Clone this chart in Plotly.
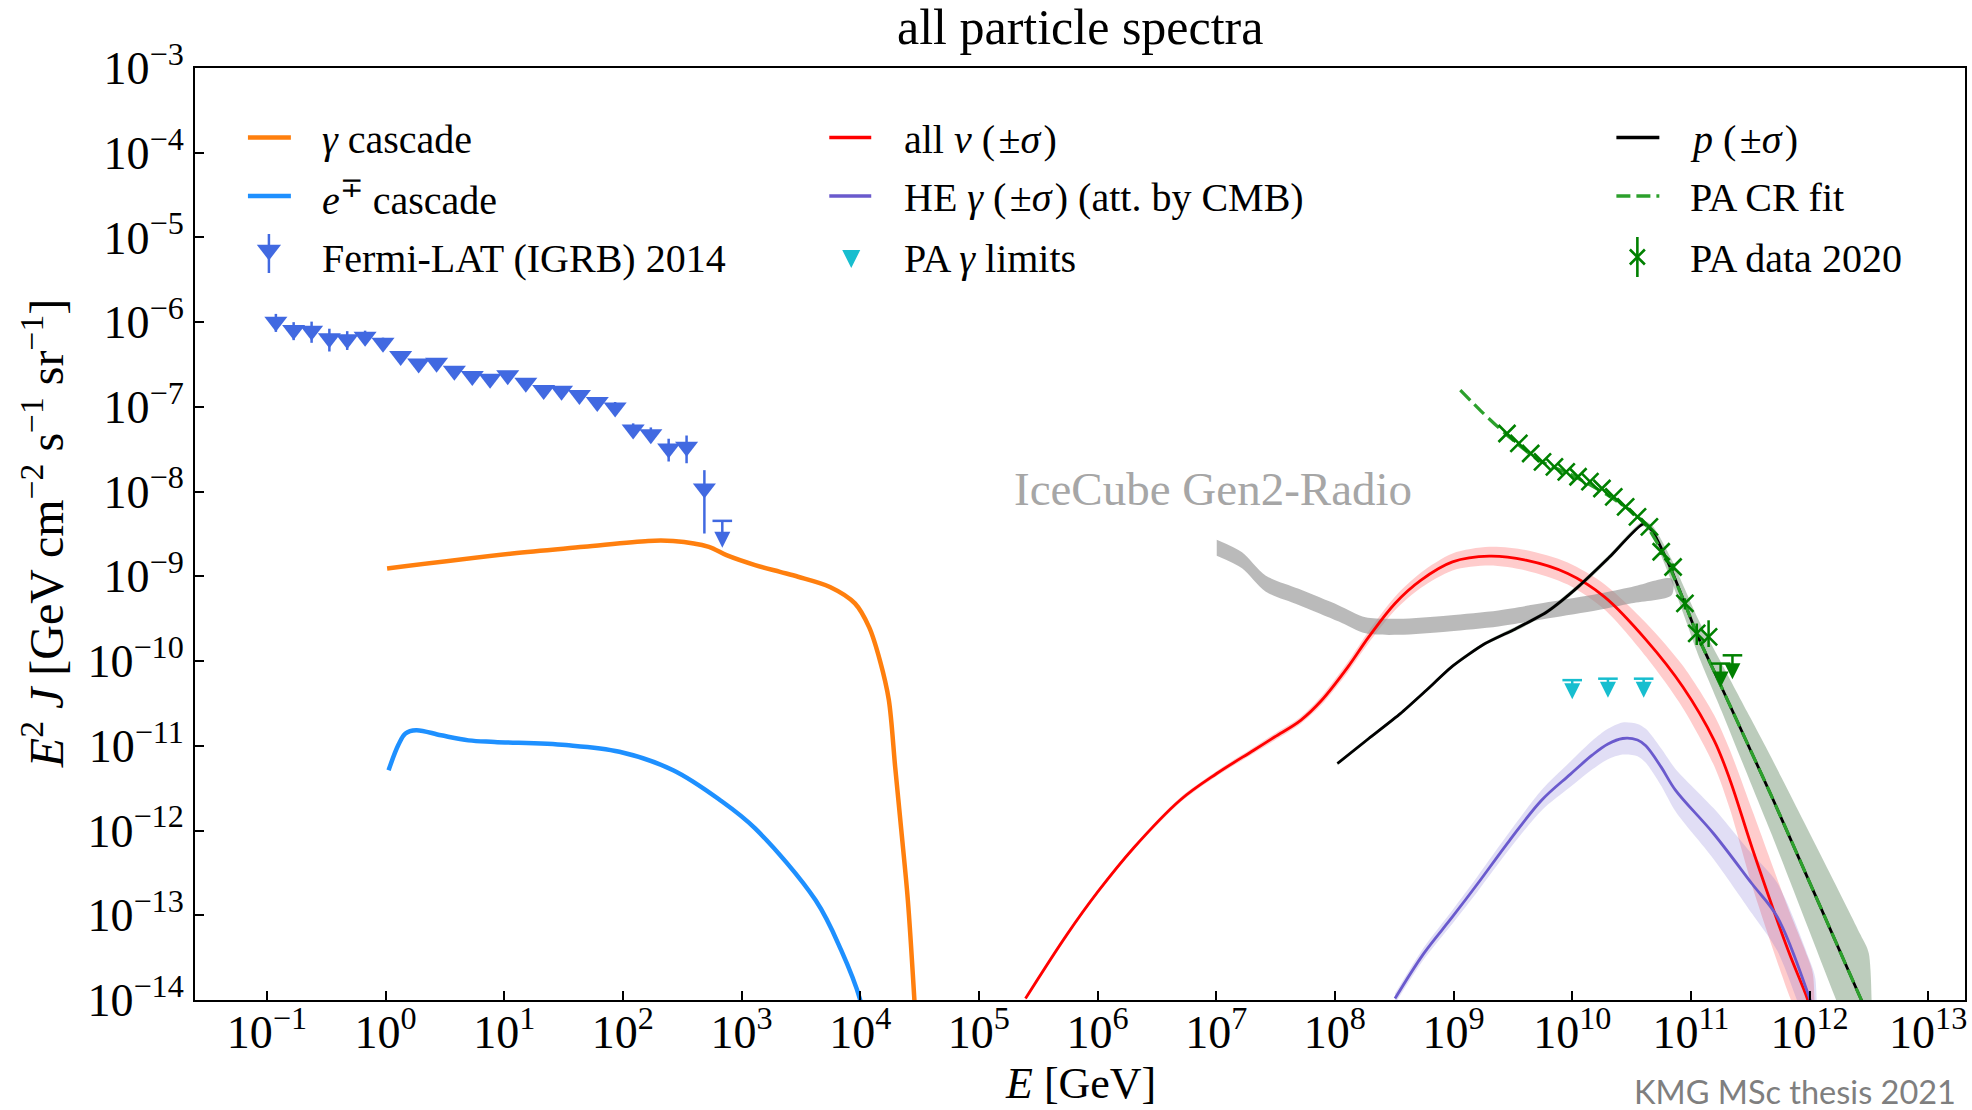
import plotly.graph_objects as go

FONT = "Liberation Serif"

# ===================== values =====================
x_exps = [-1, 0, 1, 2, 3, 4, 5, 6, 7, 8, 9, 10, 11, 12, 13]
y_exps = [-14, -13, -12, -11, -10, -9, -8, -7, -6, -5, -4, -3]

# gamma cascade
gam_E = [1.03, 11.7, 46.9, 163, 265, 530, 746, 1300, 2110, 2990, 5560, 9020,
         11900, 14700, 17400, 19700, 22200, 25200, 28600, 30000]
gam_J = [1.24e-9, 1.86e-9, 2.23e-9, 2.62e-9, 2.61e-9, 2.23e-9, 1.78e-9, 1.36e-9,
         1.13e-9, 9.9e-10, 7.5e-10, 4.8e-10, 2.5e-10, 1.0e-10, 3.5e-11, 5.6e-12,
         1.0e-12, 1.5e-13, 1.0e-14, 3e-15]

# e+- cascade
ele_E = [1.06, 1.28, 1.47, 1.81, 2.94, 5.0, 8.3, 33.1, 93.5, 265, 661, 1300,
         4210, 6890, 10000, 10500]
ele_J = [5.15e-12, 1.02e-11, 1.40e-11, 1.53e-11, 1.33e-11, 1.16e-11, 1.11e-11,
         1.02e-11, 8.5e-12, 5.15e-12, 2.28e-12, 1.06e-12, 1.5e-13, 3.9e-14,
         1.0e-14, 7e-15]

# Fermi-LAT IGRB 2014
fermi_E = [0.119, 0.168, 0.238, 0.336, 0.475, 0.672, 0.951, 1.34, 1.90, 2.69,
           3.80, 5.38, 7.60, 10.7, 15.2, 21.5, 30.4, 43.0, 60.8, 86.0, 122,
           172, 243, 344, 486]
fermi_J = [1.01e-6, 8.07e-7, 7.93e-7, 6.44e-7, 6.27e-7, 6.73e-7, 5.71e-7,
           3.98e-7, 3.26e-7, 3.32e-7, 2.67e-7, 2.31e-7, 2.15e-7, 2.37e-7,
           1.93e-7, 1.58e-7, 1.55e-7, 1.38e-7, 1.14e-7, 9.86e-8, 5.42e-8,
           4.77e-8, 3.24e-8, 3.38e-8, 1.09e-8]
fermi_err_hi = [0.24, 0.24, 0.28, 0.30, 0.25, 0.18, 0.15, 0.12, 0.12, 0.12,
                0.12, 0.12, 0.12, 0.12, 0.12, 0.12, 0.12, 0.12, 0.14, 0.16,
                0.18, 0.20, 0.30, 0.36, 0.644]
fermi_err_lo = [0.24, 0.24, 0.28, 0.30, 0.25, 0.18, 0.15, 0.12, 0.12, 0.12,
                0.12, 0.12, 0.12, 0.12, 0.12, 0.12, 0.12, 0.12, 0.14, 0.16,
                0.18, 0.20, 0.30, 0.36, 0.706]
fermi_ul_E = [688]
fermi_ul_J = [4.52e-9]

# all neutrinos (+- sigma)
nu_E = [2.47e5, 5.5e5, 1.01e6, 2.02e6, 4.95e6, 1.01e7, 2.07e7, 3.1e7, 5.15e7,
        7.74e7, 1.29e8, 1.93e8, 3.21e8, 5.32e8, 9.8e8, 2.0e9, 4.06e9, 9.16e9,
        1.87e10, 4.21e10, 8.57e10, 1.57e11, 2.14e11, 3.33e11, 6.6e11, 9.55e11,
        1.07e12]
nu_J = [1.04e-14, 5.87e-14, 1.91e-13, 6.27e-13, 2.28e-12, 4.71e-12, 8.87e-12,
        1.27e-11, 2.0e-11, 3.45e-11, 8.55e-11, 1.93e-10, 4.79e-10, 9.02e-10,
        1.48e-9, 1.73e-9, 1.55e-9, 1.08e-9, 5.73e-10, 1.77e-10, 4.95e-11,
        1.16e-11, 3.93e-12, 5.86e-13, 3.86e-14, 1.05e-14, 6.3e-15]
nu_sigma_dex = [0.02, 0.02, 0.02, 0.025, 0.03, 0.03, 0.035, 0.04, 0.04, 0.05,
                0.06, 0.07, 0.08, 0.09, 0.10, 0.11, 0.12, 0.13, 0.15, 0.20,
                0.25, 0.30, 0.35, 0.45, 0.50, 0.50, 0.50]

# HE gamma (att. by CMB) (+- sigma)
heg_E = [3.21e8, 5.6e8, 9.77e8, 1.6e9, 2.97e9, 5.52e9, 9.62e9, 1.48e10, 2.0e10,
         2.66e10, 3.55e10, 4.17e10, 5.62e10, 7.41e10, 1.55e11, 3.26e11, 5.35e11,
         1.0e12, 1.12e12]
heg_J = [1.04e-14, 3.53e-14, 9.55e-14, 2.37e-13, 7.67e-13, 2.28e-12, 4.6e-12,
         7.8e-12, 1.05e-11, 1.22e-11, 1.17e-11, 1.0e-11, 5.6e-12, 3.0e-12,
         9.23e-13, 2.37e-13, 9.55e-14, 1.05e-14, 6.3e-15]
heg_sigma_dex = [0.06, 0.07, 0.08, 0.09, 0.10, 0.12, 0.15, 0.17, 0.18, 0.19,
                 0.19, 0.20, 0.22, 0.25, 0.30, 0.35, 0.40, 0.45, 0.45]

# protons (+- sigma)
p_E = [1.05e8, 1.93e8, 3.56e8, 5.9e8, 9.8e8, 1.8e9, 3.32e9, 6.1e9, 1.12e10,
       2.07e10, 3.98e10, 4.67e10, 6.87e10, 8.89e10, 1.15e11, 1.81e11, 3.18e11,
       4.82e11, 2.69e12, 3.16e12]
p_J = [6.18e-12, 1.22e-11, 2.4e-11, 4.53e-11, 8.71e-11, 1.58e-10, 2.4e-10,
       3.8e-10, 7.52e-10, 1.70e-9, 4.17e-9, 3.52e-9, 1.18e-9, 4.79e-10,
       1.93e-10, 4.95e-11, 8.87e-12, 2.49e-12, 1.05e-14, 6.3e-15]
p_sigma_dex = [0.02, 0.02, 0.02, 0.02, 0.02, 0.02, 0.025, 0.025, 0.03, 0.03,
               0.03, 0.06, 0.13, 0.17, 0.21, 0.28, 0.38, 0.45, 0.75, 0.75]

# Pierre Auger CR fit
fit_E = [1.14e9, 1.73e9, 2.72e9, 5.19e9, 9.91e9, 1.89e10, 2.79e10, 4.1e10,
         6.04e10, 8.89e10, 1.15e11, 1.81e11, 3.18e11, 4.82e11, 2.69e12, 3.16e12]
fit_J = [1.58e-7, 8.75e-8, 4.86e-8, 2.36e-8, 1.57e-8, 9.51e-9, 6.62e-9, 4.21e-9,
         1.70e-9, 4.79e-10, 1.93e-10, 4.95e-11, 8.87e-12, 2.49e-12, 1.05e-14,
         6.3e-15]

# Pierre Auger data 2020
pa_E = [2.82e9, 3.55e9, 4.47e9, 5.62e9, 7.08e9, 8.91e9, 1.12e10, 1.41e10,
        1.78e10, 2.24e10, 2.82e10, 3.55e10, 4.47e10, 5.62e10, 7.08e10, 8.91e10,
        1.12e11, 1.41e11]
pa_J = [4.86e-8, 3.71e-8, 2.82e-8, 2.25e-8, 1.96e-8, 1.71e-8, 1.50e-8, 1.31e-8,
        1.09e-8, 8.69e-9, 6.62e-9, 5.04e-9, 3.84e-9, 1.95e-9, 1.29e-9, 4.79e-10,
        2.12e-10, 1.93e-10]
pa_err_hi = [0.02, 0.02, 0.02, 0.02, 0.02, 0.02, 0.03, 0.03, 0.03, 0.04, 0.04,
             0.05, 0.06, 0.08, 0.10, 0.15, 0.31, 0.57]
pa_err_lo = [0.02, 0.02, 0.02, 0.02, 0.02, 0.02, 0.03, 0.03, 0.03, 0.04, 0.04,
             0.05, 0.06, 0.08, 0.10, 0.15, 0.27, 0.24]
pa_ul_E = [1.78e11, 2.24e11]
pa_ul_J = [9.35e-11, 1.17e-10]

# Pierre Auger photon limits
pag_E = [1e10, 2e10, 4e10]
pag_J = [5.96e-11, 6.2e-11, 6.2e-11]

# IceCube Gen2-Radio sensitivity band
ic_E = [1.01e7, 1.65e7, 2.6e7, 4.95e7, 1.08e8, 1.81e8, 3.44e8, 9.08e8, 2.39e9,
        6.31e9, 1.66e10, 3.17e10, 6.89e10]
ic_J = [2.18e-9, 1.55e-9, 8.24e-10, 5.73e-10, 3.65e-10, 2.65e-10, 2.54e-10,
        2.78e-10, 3.18e-10, 3.99e-10, 5.0e-10, 6.0e-10, 7.52e-10]
ic_halfwidth_dex = 0.095

# ===================== geometry / styling =====================
WIDTH, HEIGHT = 1972, 1110
L, R, T, B = 195, 1967, 68, 1000
DEC_Y = (B - T) / 11.0


def u(px):
    return (px - L) / (R - L)


def v(py):
    return (B - py) / (B - T)


x_tickvals = [10.0 ** e for e in x_exps]
x_ticktext = ["10<sup>%s%d</sup>" % ("\u2212" if e < 0 else "", abs(e)) for e in x_exps]
y_tickvals = [10.0 ** e for e in y_exps]
y_ticktext = ["10<sup>%s%d</sup>" % ("\u2212" if e < 0 else "", abs(e)) for e in y_exps]

fig = go.Figure()


def band(E, J, w, color):
    if isinstance(w, (int, float)):
        w = [w] * len(E)
    hi = [j * 10 ** wi for j, wi in zip(J, w)]
    lo = [j * 10 ** (-wi) for j, wi in zip(J, w)]
    fig.add_trace(go.Scatter(x=list(E) + list(E)[::-1], y=hi + lo[::-1],
                             fill="toself", fillcolor=color, mode="lines",
                             line=dict(width=0, shape="spline", smoothing=0.8),
                             hoverinfo="skip", showlegend=False))


def curve(E, J, color, width, dash="solid", smoothing=1.0):
    fig.add_trace(go.Scatter(x=E, y=J, mode="lines",
                             line=dict(color=color, width=width, dash=dash,
                                       shape="spline", smoothing=smoothing),
                             showlegend=False))


def upper_limits(E, J, color, cap, head, drop_px, lw):
    f = 10 ** (-drop_px / DEC_Y)
    tips = [j * f for j in J]
    xs, ys = [], []
    for e, j, t in zip(E, J, tips):
        xs += [e, e, None]
        ys += [j, t * 10 ** (head * 0.5 / DEC_Y), None]
    fig.add_trace(go.Scatter(x=xs, y=ys, mode="lines",
                             line=dict(color=color, width=lw), showlegend=False))
    fig.add_trace(go.Scatter(x=E, y=J, mode="markers", showlegend=False,
                             marker=dict(symbol="line-ew", size=cap,
                                         line=dict(color=color, width=lw))))
    fig.add_trace(go.Scatter(x=E, y=tips, mode="markers", showlegend=False,
                             marker=dict(symbol="arrow-down", size=head, color=color,
                                         line=dict(width=0))))


# bands
band(nu_E, nu_J, nu_sigma_dex, "rgba(255,0,0,0.2)")
band(heg_E, heg_J, heg_sigma_dex, "rgba(106,90,205,0.2)")
band(p_E, p_J, p_sigma_dex, "rgba(80,120,80,0.38)")
band(ic_E, ic_J, ic_halfwidth_dex, "rgba(140,140,140,0.6)")

# curves
curve(gam_E, gam_J, "#ff7f0e", 4.5, smoothing=0.9)
curve(ele_E, ele_J, "#1e90ff", 4.5, smoothing=1.0)
curve(nu_E, nu_J, "#ff0000", 2.8)
curve(heg_E, heg_J, "#6a5acd", 2.8)
curve(p_E, p_J, "#000000", 2.8, smoothing=0.6)
curve(fit_E, fit_J, "#2ca02c", 3.2, dash="14px,6px", smoothing=0.6)

# Fermi points
fig.add_trace(go.Scatter(
    x=fermi_E, y=fermi_J, mode="markers", showlegend=False,
    marker=dict(symbol="triangle-down", size=20, color="#4169e1", line=dict(width=0)),
    error_y=dict(type="data", symmetric=False,
                 array=[j * r for j, r in zip(fermi_J, fermi_err_hi)],
                 arrayminus=[j * r for j, r in zip(fermi_J, fermi_err_lo)],
                 color="#4169e1", thickness=2.5, width=0)))
upper_limits(fermi_ul_E, fermi_ul_J, "#4169e1", 14, 16, 27, 2.5)

# PA photon limits
upper_limits(pag_E, pag_J, "#17becf", 14, 16, 19, 2.5)

# PA data
fig.add_trace(go.Scatter(
    x=pa_E, y=pa_J, mode="markers", showlegend=False,
    marker=dict(symbol="x-thin", size=17, color="#008000",
                line=dict(color="#008000", width=2.6)),
    error_y=dict(type="data", symmetric=False,
                 array=[j * r for j, r in zip(pa_J, pa_err_hi)],
                 arrayminus=[j * r for j, r in zip(pa_J, pa_err_lo)],
                 color="#008000", thickness=2.5, width=0)))
upper_limits(pa_ul_E, pa_ul_J, "#008000", 14, 16, 24, 2.5)

# ===================== legend (drawn by hand) =====================
LEG_FS = 40
row_y = [139, 197.5, 258]
col_sym = [(248, 291), (830, 872), (1618, 1661)]
col_txt = [320, 903, 1690]
shapes = []


def leg_line(col, row, color, width, dash="solid"):
    x0, x1 = col_sym[col]
    shapes.append(dict(type="line", xref="paper", yref="paper",
                       x0=u(x0), x1=u(x1), y0=v(row_y[row] - 1.5), y1=v(row_y[row] - 1.5),
                       line=dict(color=color, width=width, dash=dash)))


leg_line(0, 0, "#ff7f0e", 4.5)
leg_line(0, 1, "#1e90ff", 4.5)
leg_line(1, 0, "#ff0000", 3.5)
leg_line(1, 1, "#6a5acd", 3.5)
leg_line(2, 0, "#000000", 3.5)
leg_line(2, 1, "#2ca02c", 3.5, dash="14px,6px")

# Fermi legend symbol
fig.add_trace(go.Scatter(
    x=[u(269)], y=[v(250)], xaxis="x2", yaxis="y2", mode="markers", showlegend=False,
    marker=dict(symbol="triangle-down", size=21, color="#4169e1"),
    error_y=dict(type="data", array=[16 / (B - T)], arrayminus=[23 / (B - T)],
                 color="#4169e1", thickness=2.5, width=0)))
# PA gamma limits legend symbol
fig.add_trace(go.Scatter(
    x=[u(852)], y=[v(268)], xaxis="x2", yaxis="y2", mode="markers", showlegend=False,
    marker=dict(symbol="arrow-down", size=18, color="#17becf")))
# PA data legend symbol
fig.add_trace(go.Scatter(
    x=[u(1639)], y=[v(257)], xaxis="x2", yaxis="y2", mode="markers", showlegend=False,
    marker=dict(symbol="x-thin", size=15, color="#008000",
                line=dict(color="#008000", width=2.6)),
    error_y=dict(type="data", array=[20 / (B - T)], arrayminus=[20 / (B - T)],
                 color="#008000", thickness=2.6, width=0)))

HS = "\u200a"
leg_texts = [
    (0, 0, "<i>\u03b3</i> cascade"),
    (0, 1, "<i>e</i><sup>\u2213</sup> cascade"),
    (0, 2, "Fermi-LAT (IGRB) 2014"),
    (1, 0, "all <i>\u03bd</i> (" + HS + "\u00b1<i>\u03c3</i>" + HS + ")"),
    (1, 1, "HE <i>\u03b3</i> (" + HS + "\u00b1<i>\u03c3</i>" + HS + ") (att. by CMB)"),
    (1, 2, "PA <i>\u03b3</i> limits"),
    (2, 0, "<i>p</i> (" + HS + "\u00b1<i>\u03c3</i>" + HS + ")"),
    (2, 1, "PA CR fit"),
    (2, 2, "PA data 2020"),
]

annotations = []
for col, row, txt in leg_texts:
    annotations.append(dict(text=txt, xref="paper", yref="paper", x=u(col_txt[col]),
                            y=v(row_y[row]), xanchor="left", yanchor="middle",
                            showarrow=False, font=dict(family=FONT, size=LEG_FS, color="black")))

annotations += [
    dict(text="all particle spectra", xref="paper", yref="paper", x=0.5, y=v(27),
         xanchor="center", yanchor="middle", showarrow=False,
         font=dict(family=FONT, size=50, color="black")),
    dict(text="<i>E</i> [GeV]", xref="paper", yref="paper", x=0.5, y=v(1083),
         xanchor="center", yanchor="middle", showarrow=False,
         font=dict(family=FONT, size=44, color="black")),
    dict(text="<i>E</i><sup>2</sup> <i>J</i> [GeV cm<sup>\u22122</sup> s<sup>\u22121</sup> sr<sup>\u22121</sup>]",
         xref="paper", yref="paper", x=u(43), y=v(534), textangle=-90,
         xanchor="center", yanchor="middle", showarrow=False,
         font=dict(family=FONT, size=48, color="black")),
    dict(text="IceCube Gen2-Radio", xref="paper", yref="paper", x=u(1214), y=v(489),
         xanchor="center", yanchor="middle", showarrow=False,
         font=dict(family=FONT, size=47, color="#a6a6a6")),
    dict(text="KMG MSc thesis 2021", xref="paper", yref="paper", x=u(1960), y=v(1091),
         xanchor="right", yanchor="middle", showarrow=False,
         font=dict(family="Lato", size=32.5, color="#7f7f7f")),
]

axis_common = dict(type="log", ticks="inside", ticklen=9, tickwidth=1.5, tickcolor="black",
                   showline=True, linecolor="black", linewidth=2, mirror=True,
                   showgrid=False, zeroline=False,
                   tickfont=dict(family=FONT, size=46, color="black"))

fig.update_layout(
    width=WIDTH, height=HEIGHT,
    margin=dict(l=L, r=WIDTH - R, t=T, b=HEIGHT - B, pad=0),
    paper_bgcolor="white", plot_bgcolor="white", showlegend=False,
    xaxis=dict(range=[-1.606, 13.31], tickvals=x_tickvals, ticktext=x_ticktext,
               ticklabelstandoff=-9, **axis_common),
    yaxis=dict(range=[-14, -3], tickvals=y_tickvals, ticktext=y_ticktext, **axis_common),
    xaxis2=dict(overlaying="x", anchor="y2", range=[0, 1], visible=False, fixedrange=True),
    yaxis2=dict(overlaying="y", anchor="x2", range=[0, 1], visible=False, fixedrange=True),
    shapes=shapes, annotations=annotations,
)

fig.write_html("out.html")
